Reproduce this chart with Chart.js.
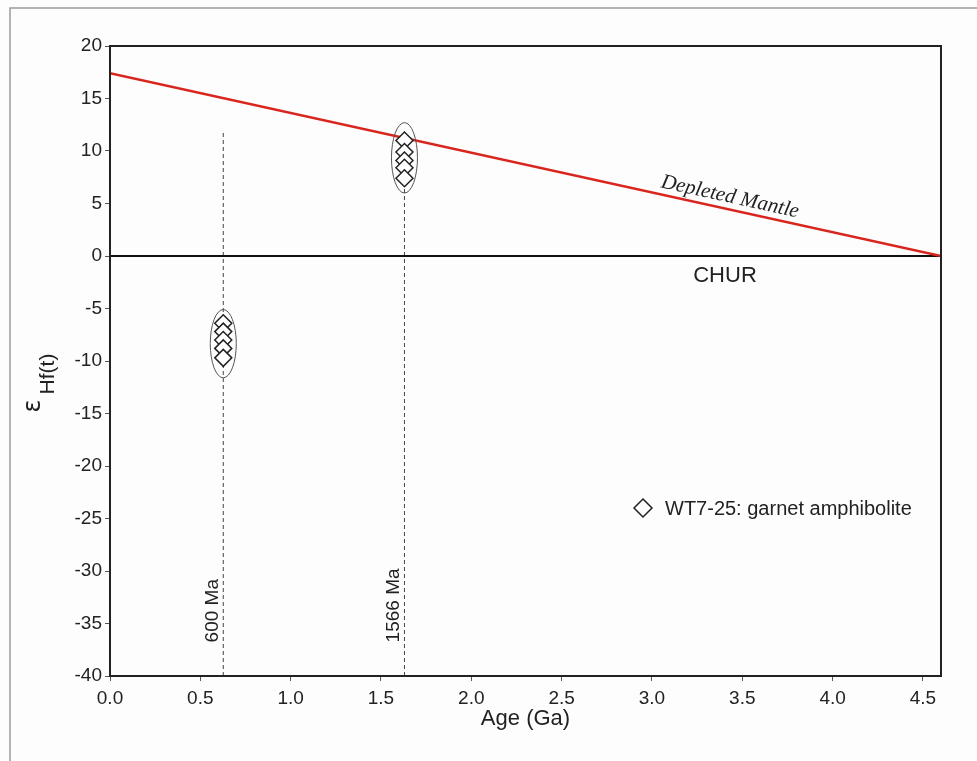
<!DOCTYPE html>
<html>
<head>
<meta charset="utf-8">
<style>
  html, body { margin: 0; padding: 0; background: #fdfdfd; }
  canvas { display: block; }
</style>
<script src="https://cdn.jsdelivr.net/npm/chart.js@4.4.1/dist/chart.umd.min.js"></script>
</head>
<body>
<canvas id="hfChart" width="977" height="761"></canvas>
<script>
// axis ticks
const xTicks = [0, 0.5, 1.0, 1.5, 2.0, 2.5, 3.0, 3.5, 4.0, 4.5];
const yTicks = [-40, -35, -30, -25, -20, -15, -10, -5, 0, 5, 10, 15, 20];

// reference lines (age in Ga, epsilon Hf)
const dmAge = [0, 4.6];
const dmEps = [17.4, 0];
const churAge = [0, 4.6];
const churEps = [0, 0];

// zircon groups
const groupAges = [0.627, 1.63];
const groupLabels = ['600 Ma', '1566 Ma'];
const group1Eps = [-6.4, -7.2, -8.0, -8.8, -9.7];
const group2Eps = [11.0, 9.9, 9.1, 8.4, 7.4];
const dashTop = [12, 8];

// ellipses round each group: centre eps and half height / half width
const ellipseEps = [-8.35, 9.35];
const ellipseHalfEps = [3.25, 3.35];
const ellipseHalfAge = [0.072, 0.072];

const toPts = (xs, ys) => ys.map((y, i) => ({ x: Array.isArray(xs) ? xs[i] : xs, y: y }));

const frame = {
    id: 'frame',
    beforeDraw(chart) {
        const c = chart.ctx;
        c.save();
        c.fillStyle = '#fdfdfd';
        c.fillRect(0, 0, chart.width, chart.height);
        c.strokeStyle = '#9a9a9a';
        c.lineWidth = 1.5;
        c.beginPath();
        c.moveTo(10, chart.height);
        c.lineTo(10, 8);
        c.lineTo(chart.width, 8);
        c.stroke();
        c.restore();
    },
    afterDatasetsDraw(chart) {
        const c = chart.ctx;
        const xs = chart.scales.x, ys = chart.scales.y;
        const a = chart.chartArea;
        c.save();

        // ellipses
        c.strokeStyle = '#555';
        c.lineWidth = 1;
        for (let i = 0; i < groupAges.length; i++) {
            const cx = xs.getPixelForValue(groupAges[i]);
            const cy = ys.getPixelForValue(ellipseEps[i]);
            const rx = xs.getPixelForValue(groupAges[i] + ellipseHalfAge[i]) - cx;
            const ry = cy - ys.getPixelForValue(ellipseEps[i] + ellipseHalfEps[i]);
            c.beginPath();
            c.ellipse(cx, cy, rx, ry, 0, 0, Math.PI * 2);
            c.stroke();
        }

        // plot box
        c.strokeStyle = '#222';
        c.lineWidth = 2;
        c.strokeRect(a.left, a.top, a.right - a.left, a.bottom - a.top);

        // rotated age labels
        c.fillStyle = '#222';
        c.font = '19px "Liberation Sans", Arial, sans-serif';
        c.textAlign = 'left';
        c.textBaseline = 'middle';
        for (let i = 0; i < groupAges.length; i++) {
            c.save();
            c.translate(xs.getPixelForValue(groupAges[i]) - 11, ys.getPixelForValue(-36.8));
            c.rotate(-Math.PI / 2);
            c.fillText(groupLabels[i], 0, 0);
            c.restore();
        }

        // Depleted Mantle label
        const p0x = xs.getPixelForValue(dmAge[0]), p0y = ys.getPixelForValue(dmEps[0]);
        const p1x = xs.getPixelForValue(dmAge[1]), p1y = ys.getPixelForValue(dmEps[1]);
        c.save();
        c.translate(730, 197);
        c.rotate(Math.atan2(p1y - p0y, p1x - p0x));
        c.font = 'italic 21px "Liberation Serif", "Times New Roman", serif';
        c.textAlign = 'center';
        c.fillStyle = '#222';
        c.fillText('Depleted Mantle', 0, 0);
        c.restore();

        // CHUR
        c.font = '22px "Liberation Sans", Arial, sans-serif';
        c.textAlign = 'center';
        c.fillText('CHUR', 725, 276);

        // legend
        c.strokeStyle = '#222';
        c.lineWidth = 1.5;
        c.fillStyle = '#fff';
        c.beginPath();
        c.moveTo(643, 499);
        c.lineTo(652, 508);
        c.lineTo(643, 517);
        c.lineTo(634, 508);
        c.closePath();
        c.fill();
        c.stroke();
        c.fillStyle = '#222';
        c.font = '20px "Liberation Sans", Arial, sans-serif';
        c.textAlign = 'left';
        c.fillText('WT7-25: garnet amphibolite', 665, 509);

        // axis titles
        c.textAlign = 'center';
        c.font = '22px "Liberation Sans", Arial, sans-serif';
        c.fillText('Age (Ga)', (a.left + a.right) / 2, 719);

        c.save();
        c.translate(34, 406);
        c.rotate(-Math.PI / 2);
        c.font = '24px "DejaVu Sans", sans-serif';
        c.fillText('ε', 0, 0);
        c.restore();
        c.save();
        c.translate(48, 374);
        c.rotate(-Math.PI / 2);
        c.font = '21px "Liberation Sans", Arial, sans-serif';
        c.fillText('Hf(t)', 0, 0);
        c.restore();

        c.restore();
    }
};

const ctx = document.getElementById('hfChart').getContext('2d');
const diamondStyle = {
    type: 'scatter',
    pointStyle: 'rectRot',
    pointRadius: 8.5,
    pointBorderWidth: 1.5,
    pointBorderColor: '#222',
    pointBackgroundColor: '#fff',
    showLine: false,
    order: 0
};

new Chart(ctx, {
    type: 'scatter',
    data: {
        datasets: [
            Object.assign({ data: toPts(groupAges[0], group1Eps) }, diamondStyle),
            Object.assign({ data: toPts(groupAges[1], group2Eps) }, diamondStyle),
            {
                type: 'line',
                data: toPts(dmAge, dmEps),
                borderColor: '#d8261e',
                borderWidth: 2.5,
                pointRadius: 0,
                order: 1
            },
            {
                type: 'line',
                data: toPts(churAge, churEps),
                borderColor: '#111',
                borderWidth: 2,
                pointRadius: 0,
                order: 2
            },
            {
                type: 'line',
                data: toPts(groupAges[0], [-40, dashTop[0]]),
                borderColor: '#444',
                borderWidth: 1,
                borderDash: [4, 3],
                pointRadius: 0,
                order: 3
            },
            {
                type: 'line',
                data: toPts(groupAges[1], [-40, dashTop[1]]),
                borderColor: '#444',
                borderWidth: 1,
                borderDash: [4, 3],
                pointRadius: 0,
                order: 3
            }
        ]
    },
    options: {
        responsive: false,
        animation: false,
        layout: { padding: { top: 46, right: 36, bottom: 0, left: 0 } },
        plugins: {
            legend: { display: false },
            tooltip: { enabled: false }
        },
        scales: {
            x: {
                type: 'linear',
                min: 0,
                max: 4.6,
                afterBuildTicks: (scale) => { scale.ticks = xTicks.map(v => ({ value: v })); },
                afterFit: (scale) => { scale.height = 85; },
                grid: { drawOnChartArea: false, tickLength: 5, tickColor: '#555' },
                border: { display: true, color: '#222', width: 2 },
                ticks: {
                    padding: 6,
                    color: '#222',
                    font: { family: '"Liberation Sans", Arial, sans-serif', size: 19 },
                    callback: (v) => Number(v).toFixed(1)
                }
            },
            y: {
                type: 'linear',
                min: -40,
                max: 20,
                afterBuildTicks: (scale) => { scale.ticks = yTicks.map(v => ({ value: v })); },
                afterFit: (scale) => { scale.width = 110; },
                grid: { drawOnChartArea: false, tickLength: 5, tickColor: '#555' },
                border: { display: true, color: '#222', width: 2 },
                ticks: {
                    padding: 3,
                    color: '#222',
                    font: { family: '"Liberation Sans", Arial, sans-serif', size: 19 },
                    callback: (v) => String(v)
                }
            }
        }
    },
    plugins: [frame]
});
</script>
</body>
</html>
